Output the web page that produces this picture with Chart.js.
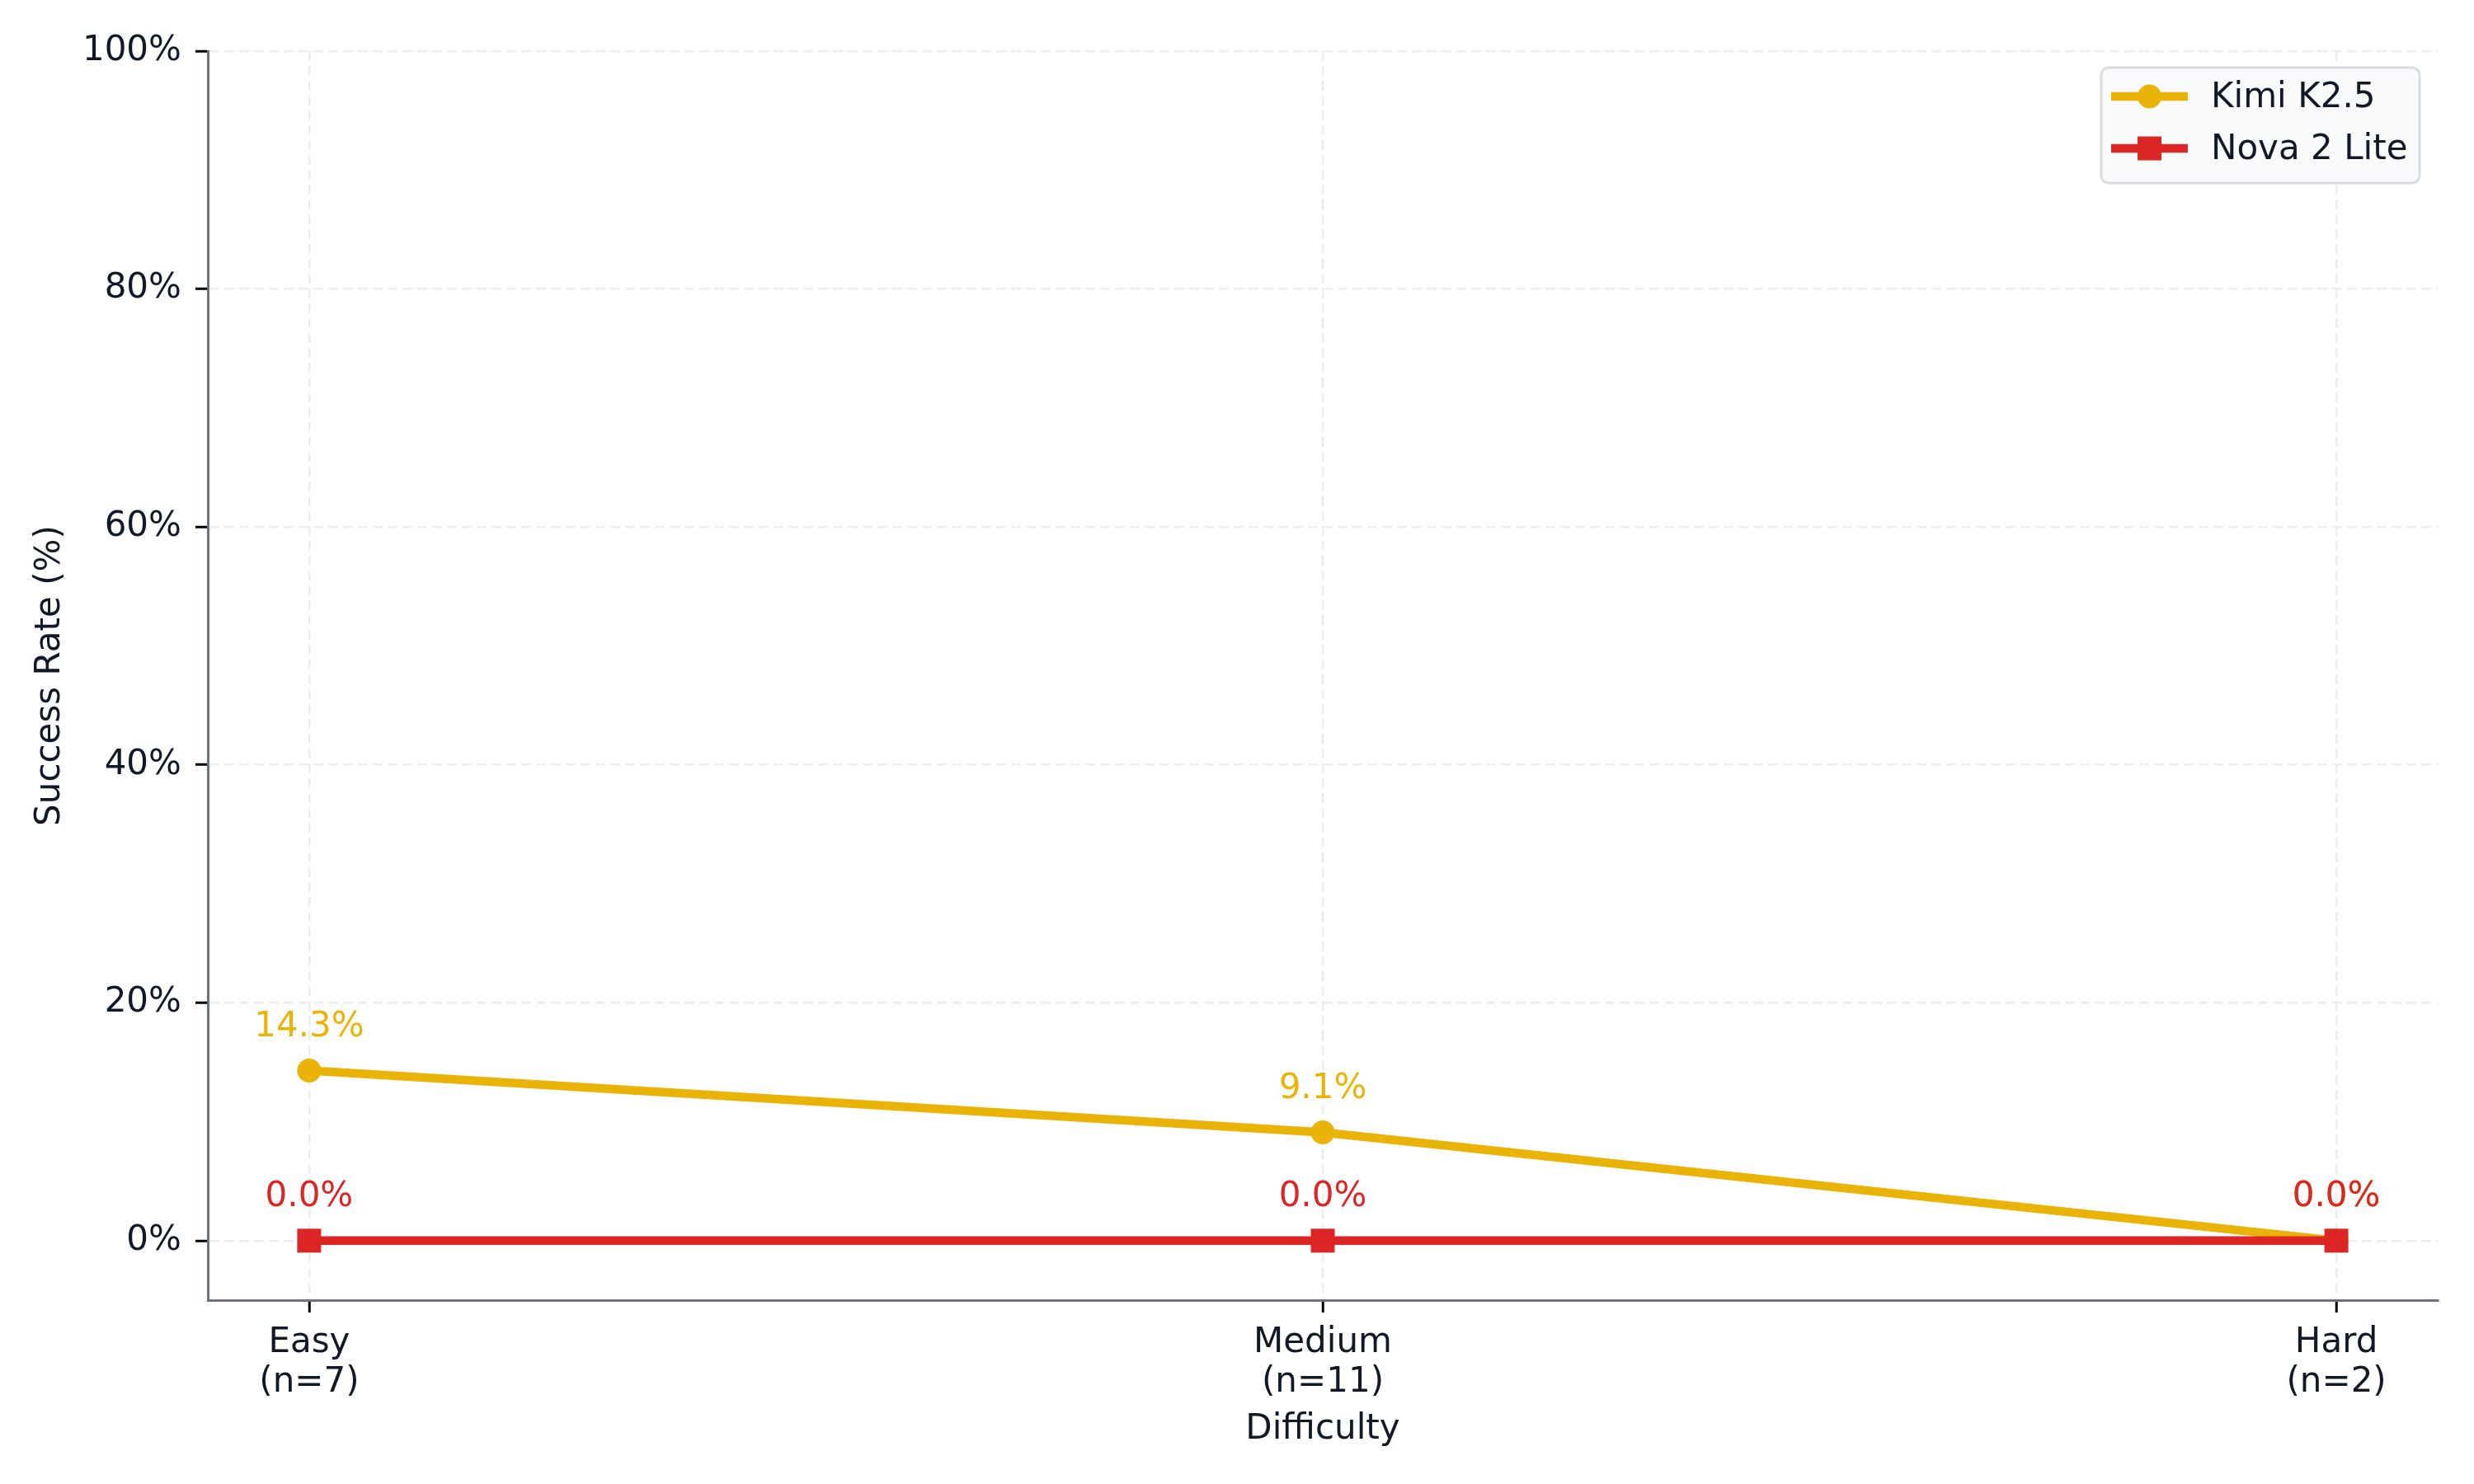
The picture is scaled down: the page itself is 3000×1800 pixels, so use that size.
<!DOCTYPE html>
<html>
<head>
<meta charset="utf-8">
<script src="https://cdn.jsdelivr.net/npm/chart.js@4.4.1/dist/chart.umd.min.js"></script>
<style>
  html, body { margin: 0; padding: 0; background: #fff; }
  canvas { display: block; }
</style>
</head>
<body>
<canvas id="difficultyChart" width="3000" height="1800"></canvas>
<script>
const categories = [['Easy', '(n=7)'], ['Medium', '(n=11)'], ['Hard', '(n=2)']];
const kimiRates = [14.3, 9.1, 0.0];
const novaRates = [0.0, 0.0, 0.0];
const yTicks = [0, 20, 40, 60, 80, 100];

const TEXT = '#111827';
const YELLOW = '#EAB308';
const RED = '#DC2626';
const FONT = "'DejaVu Sans', sans-serif";

const toPoints = arr => arr.map((v, i) => ({ x: i, y: v }));

// value labels above each point
const valueLabels = {
    id: 'valueLabels',
    afterDatasetsDraw(chart) {
        const ctx = chart.ctx;
        ctx.save();
        ctx.font = '42px ' + FONT;
        ctx.textAlign = 'center';
        ctx.textBaseline = 'alphabetic';
        chart.data.datasets.forEach((ds, i) => {
            const meta = chart.getDatasetMeta(i);
            ctx.fillStyle = ds.borderColor;
            meta.data.forEach((pt, j) => {
                ctx.fillText(ds.data[j].y.toFixed(1) + '%', pt.x, pt.y - 42);
            });
        });
        ctx.restore();
    }
};

// matplotlib-like legend box in the upper right
const boxLegend = {
    id: 'boxLegend',
    afterDraw(chart) {
        const ctx = chart.ctx;
        const area = chart.chartArea;
        const w = 386, h = 140;
        const x0 = area.right - 22 - w, y0 = area.top + 20;
        ctx.save();
        ctx.beginPath();
        ctx.roundRect(x0, y0, w, h, 9);
        ctx.fillStyle = 'rgba(249,250,251,0.92)';
        ctx.fill();
        ctx.lineWidth = 3;
        ctx.strokeStyle = '#D9DCE1';
        ctx.stroke();

        ctx.font = '42px ' + FONT;
        ctx.textBaseline = 'middle';
        ctx.textAlign = 'left';
        chart.data.datasets.forEach((ds, i) => {
            const cy = y0 + 35 + i * 63;
            const lx = x0 + 12, lw = 93, cx = lx + lw / 2;
            ctx.strokeStyle = ds.borderColor;
            ctx.fillStyle = ds.borderColor;
            ctx.lineWidth = 10.5;
            ctx.beginPath();
            ctx.moveTo(lx, cy);
            ctx.lineTo(lx + lw, cy);
            ctx.stroke();
            if (ds.pointStyle === 'rect') {
                ctx.fillRect(cx - 14.5, cy - 14.5, 29, 29);
            } else {
                ctx.beginPath();
                ctx.arc(cx, cy, 14.5, 0, Math.PI * 2);
                ctx.fill();
            }
            ctx.fillStyle = TEXT;
            ctx.fillText(ds.label, x0 + 133, cy + 2);
        });
        ctx.restore();
    }
};

const gridCommon = {
    color: 'rgba(229,231,235,0.75)',
    lineWidth: 2.5,
    tickColor: '#000000',
    tickWidth: 3,
    tickLength: 15
};

new Chart(document.getElementById('difficultyChart'), {
    type: 'line',
    data: {
        datasets: [{
            label: 'Kimi K2.5',
            data: toPoints(kimiRates),
            borderColor: YELLOW,
            backgroundColor: YELLOW,
            borderWidth: 10.5,
            pointStyle: 'circle',
            pointRadius: 14.5,
            pointBorderWidth: 0,
            order: 1
        }, {
            label: 'Nova 2 Lite',
            data: toPoints(novaRates),
            borderColor: RED,
            backgroundColor: RED,
            borderWidth: 10.5,
            pointStyle: 'rect',
            pointRadius: 20.5,
            pointBorderWidth: 0,
            order: 0
        }]
    },
    options: {
        responsive: false,
        devicePixelRatio: 1,
        animation: false,
        parsing: false,
        layout: { padding: { top: 62, right: 44, left: 0, bottom: 0 } },
        plugins: {
            legend: { display: false },
            tooltip: { enabled: false },
            title: { display: false }
        },
        scales: {
            x: {
                type: 'linear',
                min: -0.1,
                max: 2.1,
                afterBuildTicks: scale => { scale.ticks = categories.map((c, i) => ({ value: i })); },
                afterFit: scale => { scale.height = 223; },
                ticks: {
                    color: TEXT,
                    font: { family: FONT, size: 42, lineHeight: 1.15 },
                    padding: 13,
                    maxRotation: 0,
                    autoSkip: false,
                    callback: value => categories[value]
                },
                grid: gridCommon,
                border: { display: true, color: '#6B7280', width: 3, dash: [12, 6] },
                title: {
                    display: true,
                    text: 'Difficulty',
                    color: TEXT,
                    font: { family: FONT, size: 42 },
                    padding: { top: 0, bottom: 41 }
                }
            },
            y: {
                min: -5,
                max: 100,
                afterBuildTicks: scale => { scale.ticks = yTicks.map(v => ({ value: v })); },
                afterFit: scale => { scale.width = 252; },
                ticks: {
                    color: TEXT,
                    font: { family: FONT, size: 42 },
                    padding: 17,
                    callback: value => value + '%'
                },
                grid: gridCommon,
                border: { display: true, color: '#6B7280', width: 3, dash: [12, 6] },
                title: {
                    display: true,
                    text: 'Success Rate (%)',
                    color: TEXT,
                    font: { family: FONT, size: 42 },
                    padding: { top: 36, bottom: 0 }
                }
            }
        }
    },
    plugins: [valueLabels, boxLegend]
});
</script>
</body>
</html>
